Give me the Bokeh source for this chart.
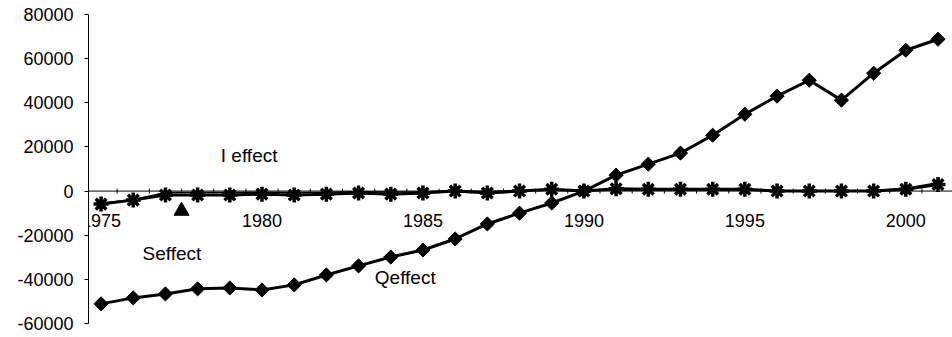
from bokeh.plotting import figure
from bokeh.models import Range1d, FixedTicker, PrintfTickFormatter, Span, ColumnDataSource
from bokeh.core.properties import value
from bokeh.embed import file_html
from bokeh.resources import INLINE
import math

# Decomposition of the change (units as in source table)
years = list(range(1975, 2002))
q_effect = [-51100, -48400, -46600, -44300, -43900, -44800, -42500, -38000, -33900, -29900,
            -26700, -21700, -14900, -10000, -5400, 0, 7200, 12200, 17200, 25300,
            34800, 43000, 50200, 41200, 53400, 63800, 68800]
i_effect = [-5900, -4100, -1800, -1800, -1800, -1400, -1800, -1400, -900, -1400,
            -900, 0, -900, 0, 800, 0, 1000, 800, 800, 800,
            800, 0, 0, 0, 0, 800, 3000]
s_effect = [-5500, -3800, -700, -600, -600, -500, -600, -500, -300, -400,
            -300, 200, -200, 300, 600, 300, 600, 500, 500, 500,
            500, 300, 200, 200, 300, 1300, 3800]

year_labels = [1975, 1980, 1985, 1990, 1995, 2000]
y_ticks = [-60000, -40000, -20000, 0, 20000, 40000, 60000, 80000]

# Series name labels and the pointer for the S effect
label_text = ["I effect", "Seffect", "Qeffect"]
label_year = [1979.6, 1977.2, 1984.45]
label_value = [16300, -28100, -39000]
pointer_year = [1977.5]
pointer_value = [-9000]

FONT = "Liberation Sans"

p = figure(width=952, height=337, output_backend="svg", toolbar_location=None,
           x_range=Range1d(1974.61, 2001.45), y_range=Range1d(-60000, 80000),
           min_border_left=88, min_border_right=0, min_border_top=14, min_border_bottom=14)
p.outline_line_color = None
p.grid.visible = False
p.xaxis.visible = False
p.background_fill_color = "white"
p.border_fill_color = "white"

ya = p.yaxis[0]
ya.ticker = FixedTicker(ticks=y_ticks)
ya.formatter = PrintfTickFormatter(format="%d")
ya.major_label_text_font = FONT
ya.major_label_text_font_size = "18px"
ya.major_label_text_color = "black"
ya.axis_line_color = "black"
ya.axis_line_width = 1
ya.major_tick_out = 4
ya.major_tick_in = 0
ya.minor_tick_line_color = None
ya.major_label_standoff = 11

# category axis along zero
p.add_layout(Span(location=0, dimension="width", line_color="black", line_width=1))
p.scatter(x=[y + 0.5 for y in years[:-1]], y=[0] * (len(years) - 1), marker="dash",
          angle=math.pi / 2, size=5, line_color="black", line_width=1)
p.text(x=year_labels, y=[0] * len(year_labels), text=[str(y) for y in year_labels],
       text_font=value(FONT), text_font_size="18px", text_color="black",
       text_align="center", text_baseline="middle", y_offset=29)

src = ColumnDataSource(dict(year=years, q=q_effect, i=i_effect, s=s_effect))

p.line("year", "s", source=src, line_color="black", line_width=1.5)
p.line("year", "i", source=src, line_color="black", line_width=3)
p.scatter("year", "i", source=src, marker="asterisk", size=15, line_color="black", line_width=3.5)
p.line("year", "q", source=src, line_color="black", line_width=3)
p.scatter("year", "q", source=src, marker="square", angle=math.pi / 4, size=10,
          fill_color="black", line_color="black")

p.scatter(pointer_year, pointer_value, marker="triangle", size=15,
          fill_color="black", line_color="black")

p.text(x=label_year, y=label_value, text=label_text, text_font=value(FONT),
       text_font_size="19px", text_color="black", text_align="center", text_baseline="middle")

open("out.html", "w").write(file_html(p, INLINE))
